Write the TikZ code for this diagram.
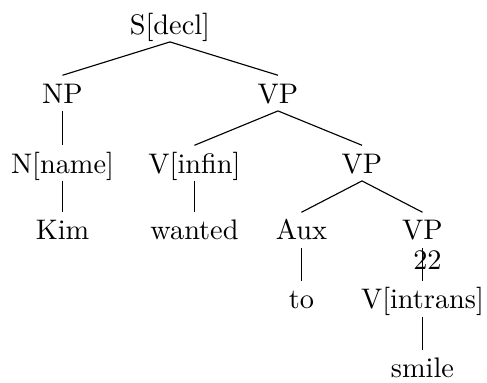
\documentclass[tikz,border=0pt]{standalone}
\begin{document}
\begin{tikzpicture}[x=0.3533pt,y=-0.3533pt,
  cat/.style={anchor=base,inner sep=0pt,text height=9.6pt,text depth=2.6pt},
  branch/.style={line width=0.4pt}]
\useasboundingbox (0,0) rectangle (487,383);
\node[cat] (s) at (170,34) {S[decl]};
\node[cat] (np) at (62.5,103) {NP};
\node[cat] (vp1) at (278,103) {VP};
\node[cat] (nname) at (62.5,173) {N[name]};
\node[cat] (vinfin) at (194.5,173) {V[infin]};
\node[cat] (vp2) at (362,173) {VP};
\node[cat] (kim) at (62.5,240) {Kim};
\node[cat] (wanted) at (194.5,240) {wanted};
\node[cat] (aux) at (301.5,240) {Aux};
\node[cat] (vp3) at (422.5,240) {VP};
\node[cat] (to) at (301.5,309) {to};
\node[cat] (vintrans) at (422.5,309) {V[intrans]};
\node[cat] (smile) at (422.5,378) {smile};
\node[anchor=base,inner sep=0pt] (lbl) at (427.5,270) {22};
\draw[branch] (s.south) -- (np.north);
\draw[branch] (s.south) -- (vp1.north);
\draw[branch] (np.south) -- (nname.north);
\draw[branch] (nname.south) -- (kim.north);
\draw[branch] (vp1.south) -- (vinfin.north);
\draw[branch] (vp1.south) -- (vp2.north);
\draw[branch] (vinfin.south) -- (wanted.north);
\draw[branch] (vp2.south) -- (aux.north);
\draw[branch] (vp2.south) -- (vp3.north);
\draw[branch] (aux.south) -- (to.north);
\draw[branch] (vp3.south) -- (vintrans.north);
\draw[branch] (vintrans.south) -- (smile.north);
\end{tikzpicture}
\end{document}
